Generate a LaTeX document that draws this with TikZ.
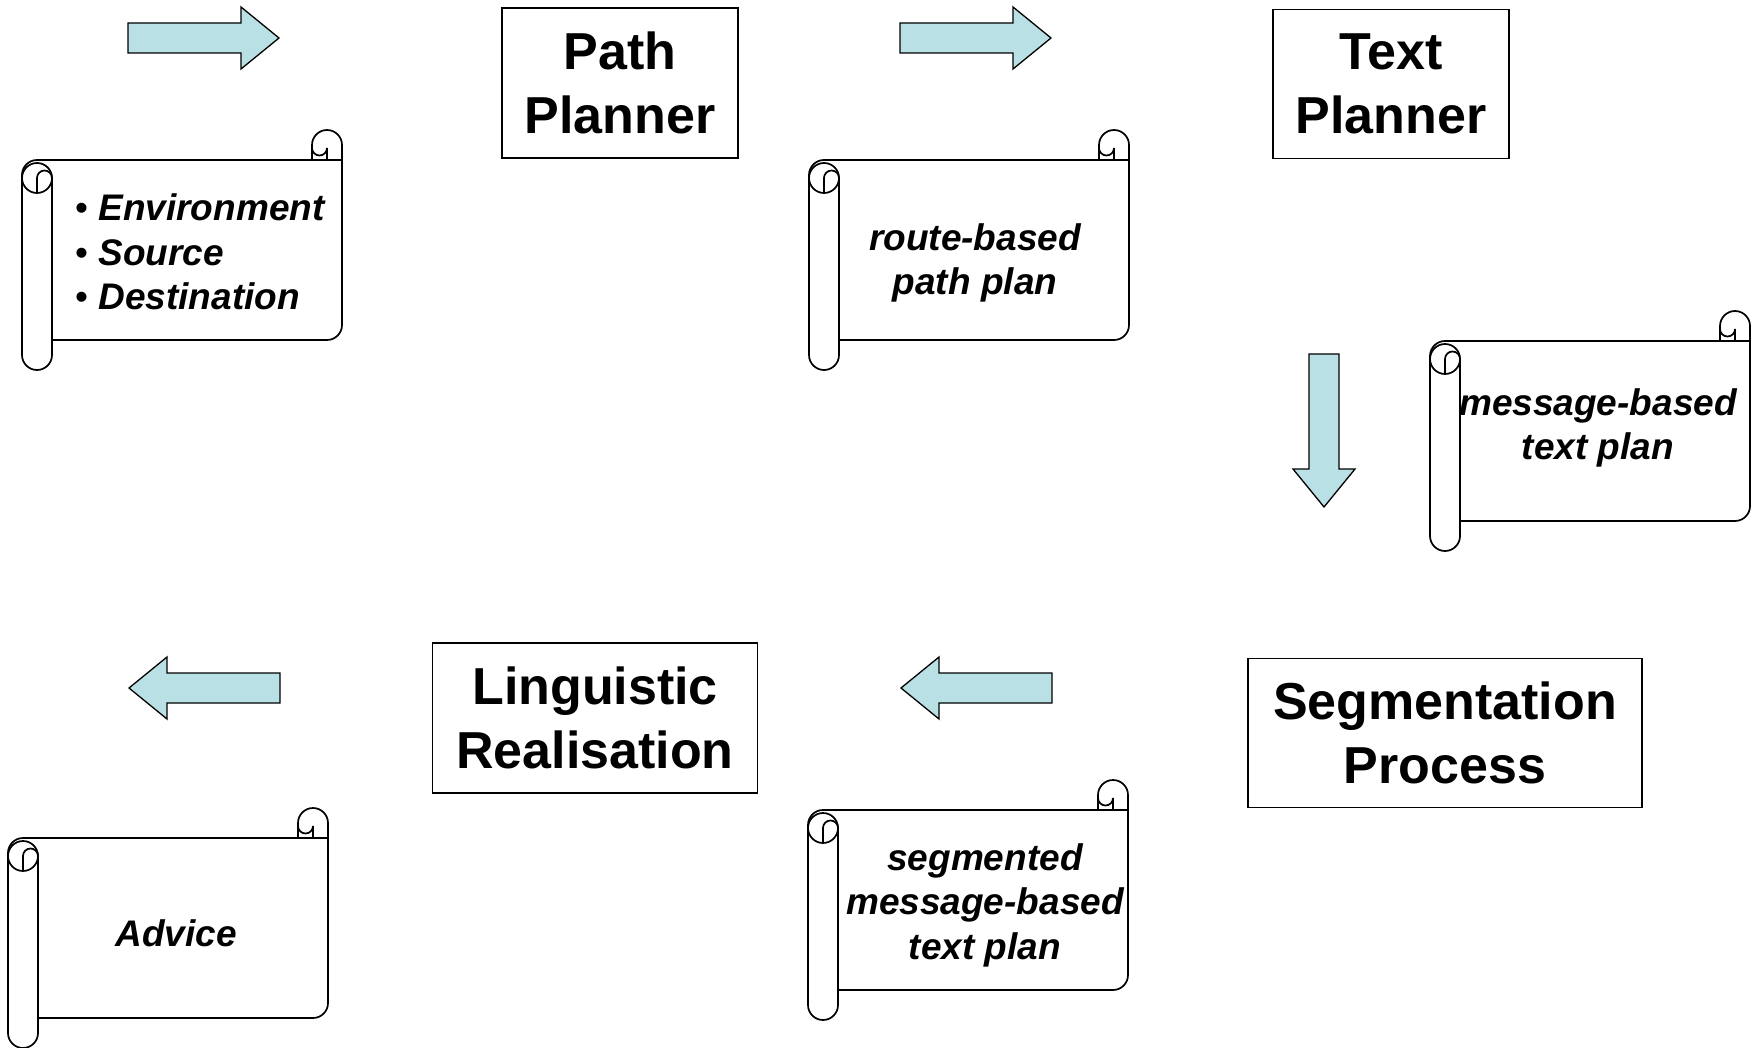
\documentclass[tikz,border=0pt]{standalone}
\usepackage{fontspec}
\setmainfont{Liberation Sans}
\usepackage{tikz}
\definecolor{arrowfill}{RGB}{185,224,228}
\tikzstyle{process}=[
        draw=black,
        line width=1.8pt,
        align=center,
        font=\bfseries\fontsize{52}{64}\selectfont
]
\tikzstyle{scrolltext}=[
        align=center,
        inner sep=0pt,
        font=\bfseries\itshape\fontsize{37}{44.5}\selectfont
]
\tikzstyle{scrolledge}=[
        draw=black,
        line width=1.7pt,
        fill=white
]
\tikzstyle{scrollline}=[
        draw=black,
        line width=1.7pt
]
\tikzstyle{blockarrow}=[
        draw=black,
        line width=1.3pt,
        fill=arrowfill
]

\begin{document}
\begin{tikzpicture}[x=1pt,y=-1pt]
                        \useasboundingbox (0,0) rectangle (1755,1048);

                        % scrolls
                        \foreach \sx/\sy in {22/130, 809/130, 1430/311, 808/780, 8/808} {
                            \begin{scope}[shift={(\sx,\sy)}]
                                \draw[scrolledge] (15,30) -- (290,30) -- (290,15) arc (180:360:15)
                                    -- (320,195) arc (0:90:15) -- (30,210) -- (30,225) arc (0:180:15)
                                    -- (0,45) arc (180:270:15) -- cycle;
                                \draw[scrollline] (290,30) -- (320,30);
                                \draw[scrollline] (290,18) arc (180:0:7.5) -- (305,30);
                                \draw[scrollline] (15,48) circle (15);
                                \draw[scrollline] (30,48) -- (30,210);
                                \draw[scrollline] (15,63) -- (15,48) arc (180:360:7.5);
                            \end{scope}
                        }

                        \node[scrolltext, anchor=west, align=left] (inputs) at (75,252)
                            {{\mdseries\upshape •} Environment\\{\mdseries\upshape •} Source\\{\mdseries\upshape •} Destination};
                        \node[scrolltext] (routeplan) at (975,263) {route-based\\path plan};
                        \node[scrolltext] (messageplan) at (1598,428) {message-based\\text plan};
                        \node[scrolltext] (segmentedplan) at (985,905) {segmented\\message-based\\text plan};
                        \node[scrolltext] (advice) at (176,933) {Advice};

                        % processes
                        \node[process, minimum width=236pt, minimum height=150pt] (pathplanner) at (620,83) {Path\\Planner};
                        \node[process, minimum width=236pt, minimum height=149pt] (textplanner) at (1391,84) {Text\\Planner};
                        \node[process, minimum width=394pt, minimum height=149pt] (segmentation) at (1445,733) {Segmentation\\Process};
                        \node[process, minimum width=325pt, minimum height=150pt] (realisation) at (595,718) {Linguistic\\Realisation};

                        % block arrows
                        \foreach \ax/\ay/\dir in {128/38/1, 900/38/1, 280/688/-1, 1052/688/-1} {
                            \draw[blockarrow, shift={(\ax,\ay)}, xscale=\dir]
                                (0,-15) -- (113,-15) -- (113,-31) -- (151,0) -- (113,31) -- (113,15) -- (0,15) -- cycle;
                        }
                        \draw[blockarrow, shift={(1324,354)}]
                            (-15,0) -- (-15,115) -- (-31,115) -- (0,153) -- (31,115) -- (15,115) -- (15,0) -- cycle;

\end{tikzpicture}
\end{document}
